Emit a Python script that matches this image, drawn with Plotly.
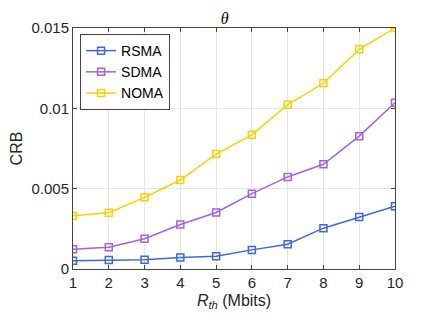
import plotly.graph_objects as go

x_vals = [1, 2, 3, 4, 5, 6, 7, 8, 9, 10]
rsma = [0.00052, 0.00056, 0.00058, 0.00071, 0.00079, 0.00119, 0.00154, 0.00254, 0.00323, 0.0039]
sdma = [0.00123, 0.00135, 0.00188, 0.00277, 0.00352, 0.00469, 0.00573, 0.00652, 0.00827, 0.01035]
noma = [0.00331, 0.0035, 0.00446, 0.00554, 0.00715, 0.00835, 0.01023, 0.01156, 0.01367, 0.01500]
series_names = ["RSMA", "SDMA", "NOMA"]
series_colors = ["#3F68E0", "#A463E0", "#FFD000"]
y_tickvals = [0, 0.005, 0.01, 0.015]
y_ticktext = ["0", "0.005", "0.01", "0.015"]

fig = go.Figure()
for name, vals, col in zip(series_names, [rsma, sdma, noma], series_colors):
    fig.add_trace(go.Scatter(
        x=x_vals, y=vals, name=name, mode="lines+markers",
        line=dict(color=col, width=1.5),
        marker=dict(symbol="square-open", size=7, color=col, line=dict(width=1.5, color=col)),
    ))

axis_common = dict(
    showline=True, linecolor="#444444", linewidth=1, mirror="ticks",
    ticks="inside", ticklen=4, tickcolor="#444444",
    showgrid=True, gridcolor="#E6E6E6", gridwidth=1, zeroline=False,
    automargin=False,
    tickfont=dict(family="Liberation Sans, Arial", size=15, color="#262626"),
)

fig.update_layout(
    width=436, height=327,
    margin=dict(l=65, r=49, t=20, b=66, autoexpand=False),
    paper_bgcolor="white", plot_bgcolor="white",
    title=dict(text="<i>θ</i>", x=0.497, xanchor="center", y=0.985, yanchor="top",
               font=dict(family="Liberation Serif, Times New Roman", size=16, color="#000000")),
    xaxis=dict(range=[1, 10], tickvals=x_vals, **axis_common,
               title=dict(text="<i>R</i><sub><i>th</i></sub> (Mbits)",
                          font=dict(family="Liberation Sans, Arial", size=16, color="#262626"), standoff=4)),
    yaxis=dict(range=[0, 0.015], tickvals=y_tickvals, ticktext=y_ticktext, **axis_common,
               title=dict(text="CRB", font=dict(family="Liberation Sans, Arial", size=16, color="#262626"), standoff=6)),
    legend=dict(x=0.022, y=0.975, xanchor="left", yanchor="top",
                bordercolor="#444444", borderwidth=1, bgcolor="white",
                font=dict(family="Liberation Sans, Arial", size=14, color="#000000"),
                tracegroupgap=0, itemwidth=30),
    showlegend=True,
)

fig.write_html("out.html")
